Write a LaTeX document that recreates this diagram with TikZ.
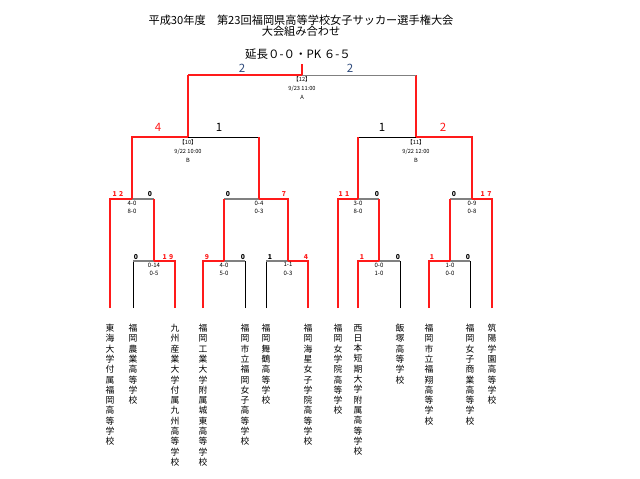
\documentclass[tikz,border=0pt]{standalone}
\usepackage{fontspec}
\setmainfont{Noto Sans CJK JP}
\usepackage{xcolor}
\definecolor{winRed}   {HTML}{FF1A1A}
\definecolor{loseGray} {HTML}{808080}
\definecolor{finalBlue}{HTML}{2F4B7C}
\usetikzlibrary{positioning}

\begin{document}
\begin{tikzpicture}[
    x=1pt, y=-1pt,
    every node/.style={inner sep=0pt},
    win/.style={draw=winRed, line width=1.8pt},
    winthick/.style={draw=winRed, line width=2.8pt},
    losev/.style={draw=black, line width=0.9pt},
    loseh/.style={draw=loseGray, line width=1.2pt},
    losedark/.style={draw=black, line width=0.9pt},
    team/.style={font=\fontsize{8.8}{10.3}\selectfont, align=center, anchor=north},
    sc/.style={font=\fontsize{6.8}{7}\selectfont\bfseries},
    res/.style={font=\fontsize{6}{8.8}\selectfont, align=center},
    info/.style={font=\fontsize{5.7}{9}\selectfont, align=center},
    big/.style={font=\fontsize{11.5}{12}\selectfont}
]
\useasboundingbox (0,0) rectangle (640,479);

% Title
\node[font=\fontsize{11.2}{11.5}\selectfont, align=center] (title) at (301,25.5)
    {平成30年度　第23回福岡県高等学校女子サッカー選手権大会\\大会組み合わせ};

% Teams
\foreach \i/\x/\name in {
    1/110/{東\\海\\大\\学\\付\\属\\福\\岡\\高\\等\\学\\校},
    2/133/{福\\岡\\農\\業\\高\\等\\学\\校},
    3/175/{九\\州\\産\\業\\大\\学\\付\\属\\九\\州\\高\\等\\学\\校},
    4/203/{福\\岡\\工\\業\\大\\学\\附\\属\\城\\東\\高\\等\\学\\校},
    5/245/{福\\岡\\市\\立\\福\\岡\\女\\子\\高\\等\\学\\校},
    6/266/{福\\岡\\舞\\鶴\\高\\等\\学\\校},
    7/308/{福\\岡\\海\\星\\女\\子\\学\\院\\高\\等\\学\\校},
    8/338/{福\\岡\\女\\学\\院\\高\\等\\学\\校},
    9/358/{西\\日\\本\\短\\期\\大\\学\\附\\属\\高\\等\\学\\校},
    10/400/{飯\\塚\\高\\等\\学\\校},
    11/429/{福\\岡\\市\\立\\福\\翔\\高\\等\\学\\校},
    12/470/{福\\岡\\女\\子\\商\\業\\高\\等\\学\\校},
    13/492/{筑\\陽\\学\\園\\高\\等\\学\\校}} {
    \coordinate (t\i) at (\x,308);
    \node[team] (n\i) at (\x,324) {\name};
}

% Junctions
\coordinate (mA) at (154,261);
\coordinate (mB) at (224,261);
\coordinate (mC) at (288,261);
\coordinate (mD) at (379,261);
\coordinate (mE) at (450,261);
\coordinate (mF) at (132,199);
\coordinate (mG) at (259,199);
\coordinate (mH) at (358,199);
\coordinate (mI) at (472,199);
\coordinate (m10) at (188,137);
\coordinate (m11) at (416,137);
\coordinate (m12) at (302,75);
\coordinate (top) at (302,64);

% First round
\draw[losev] (t2) -- (t2 |- mA);
\draw[loseh] (t2 |- mA) -- (mA);
\draw[win] (t3) |- (mA);
\draw[losev] (t5) -- (t5 |- mB);
\draw[loseh] (t5 |- mB) -- (mB);
\draw[win] (t4) |- (mB);
\draw[losev] (t6) -- (t6 |- mC);
\draw[loseh] (t6 |- mC) -- (mC);
\draw[win] (t7) |- (mC);
\draw[losev] (t10) -- (t10 |- mD);
\draw[loseh] (t10 |- mD) -- (mD);
\draw[win] (t9) |- (mD);
\draw[losev] (t12) -- (t12 |- mE);
\draw[loseh] (t12 |- mE) -- (mE);
\draw[win] (t11) |- (mE);

% Second round
\draw[loseh] (mA |- mF) -- (mF);
\draw[win] (mA) -- (mA |- mF);
\draw[win] (t1) |- (mF);
\draw[loseh] (mB |- mG) -- (mG);
\draw[win] (mB) -- (mB |- mG);
\draw[win] (mC) |- (mG);
\draw[loseh] (mD |- mH) -- (mH);
\draw[win] (mD) -- (mD |- mH);
\draw[win] (t8) |- (mH);
\draw[loseh] (mE |- mI) -- (mI);
\draw[win] (mE) -- (mE |- mI);
\draw[win] (t13) |- (mI);

% Semi finals
\draw[losedark] (mG |- m10) -- (m10);
\draw[win] (mG) -- (mG |- m10);
\draw[win] (mF) |- (m10);
\draw[losedark] (mH |- m11) -- (m11);
\draw[win] (mH) -- (mH |- m11);
\draw[win] (mI) |- (m11);

% Final
\draw[win] (m10) -- (m10 |- m12);
\draw[winthick] (m10 |- m12) -- (m12);
\draw[win] (m11) -- (m11 |- m12);
\draw[loseh, line width=0.9pt] (m11 |- m12) -- (m12);
\draw[winthick] (m12) -- (top);

% Match info
\node[info, below=1.5pt of m12] (i12) {【12】\\9/23 11:00\\A};
\node[info, below=2pt of m10] (i10) {【10】\\9/22 10:00\\B};
\node[info, below=2pt of m11] (i11) {【11】\\9/22 12:00\\B};

% Results
\foreach \m/\r in {mF/{4-0\\8-0}, mG/{0-4\\0-3}, mH/{3-0\\8-0}, mI/{0-9\\0-8},
                   mA/{0-14\\0-5}, mB/{4-0\\5-0}, mC/{1-1\\0-3},
                   mD/{0-0\\1-0}, mE/{1-0\\0-0}} {
    \node[res, below=1.5pt of \m] (r\m) {\r};
}

% Scores
\foreach \n/\x/\y/\s/\c in {F1/118/194/1\hspace{2.5pt}2/winRed, F2/150/194/0/black,
                            G1/228/194/0/black, G2/284/194/7/winRed,
                            H1/344/194/1\hspace{2.5pt}1/winRed, H2/377/194/0/black,
                            I1/454/194/0/black, I2/486/194/1\hspace{2.5pt}7/winRed,
                            A1/136/257/0/black, A2/168/257/1\hspace{2.5pt}9/winRed,
                            B1/207/257/9/winRed, B2/243/257/0/black,
                            C1/270/257/1/black, C2/306/257/4/winRed,
                            D1/362/257/1/winRed, D2/398/257/0/black,
                            E1/432/257/1/winRed, E2/468/257/0/black} {
    \node[sc, text=\c] (s\n) at (\x,\y) {\s};
}
\node[big, text=winRed] (s10a) at (158,127) {4};
\node[big] (s10b) at (219,127) {1};
\node[big] (s11a) at (382,127) {1};
\node[big, text=winRed] (s11b) at (443,127) {2};
\node[big, text=finalBlue] (s12a) at (242,68) {2};
\node[big, text=finalBlue] (s12b) at (350,68) {2};
\node[big] (pk) at (298,54) {延長０-０・PK ６-５};
\end{tikzpicture}
\end{document}
